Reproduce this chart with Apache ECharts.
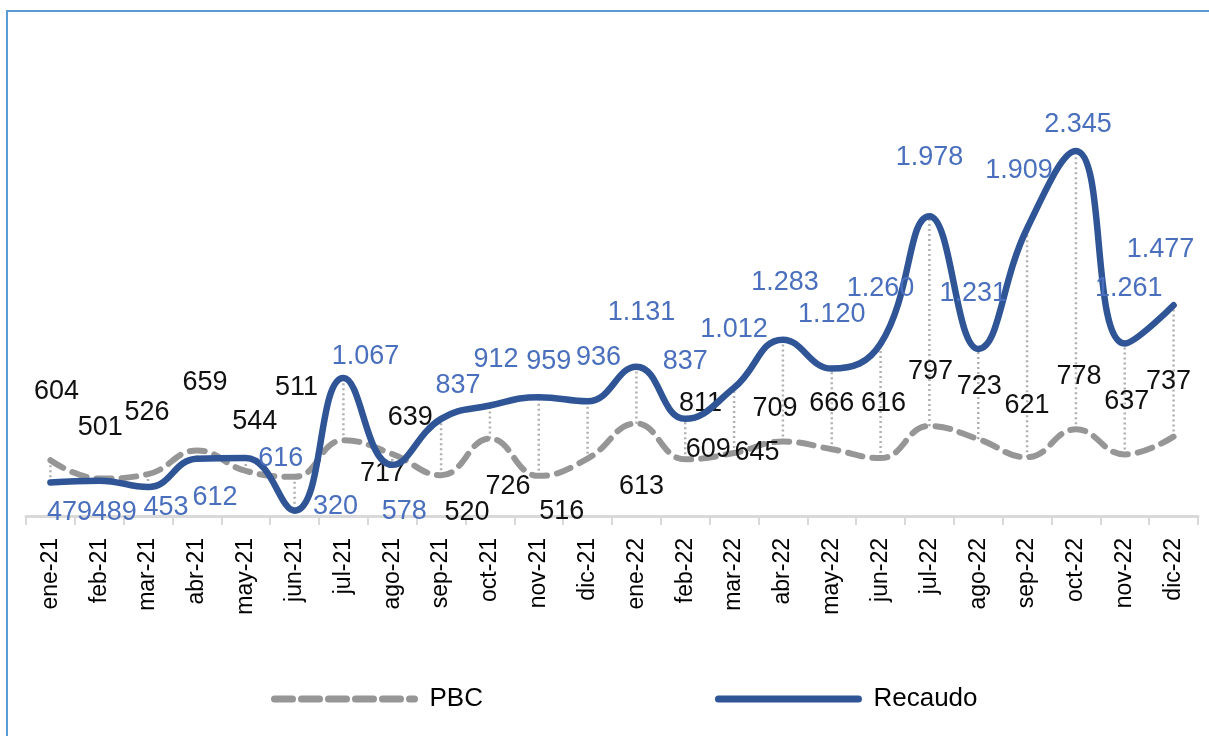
<!DOCTYPE html>
<html>
<head>
<meta charset="utf-8">
<script src="https://cdn.jsdelivr.net/npm/echarts@6/dist/echarts.min.js"></script>
<style>
html,body{margin:0;padding:0;background:#fff;}
#chart{width:1209px;height:736px;}
</style>
</head>
<body>
<div id="chart"></div>
<script>
var categories = ['ene-21','feb-21','mar-21','abr-21','may-21','jun-21','jul-21','ago-21','sep-21','oct-21','nov-21','dic-21',
                  'ene-22','feb-22','mar-22','abr-22','may-22','jun-22','jul-22','ago-22','sep-22','oct-22','nov-22','dic-22'];
var pbc = [604,501,526,659,544,511,717,639,520,726,516,613,811,609,645,709,666,616,797,723,621,778,637,737];
var recaudo = [479,489,453,612,616,320,1067,578,837,912,959,936,1131,837,1012,1283,1120,1260,1978,1231,1909,2345,1261,1477];

// label placement (style only): [dx, dy] offsets from each point
var pbcLabelOffset = [[6,-69],[1,-51],[-1,-62],[8,-68],[9,-49],[2,-89],[39,33],[18,-36],[26,37],[18,48],[23,36],[54,28],
                      [64,-20],[23,-10],[23,0],[-8,-33],[0,-46],[3,-55],[1,-54],[1,-53],[0,-52],[3,-53],[2,-53],[-5,-55]];
var recLabelOffset = [[19,30],[15,32],[18,20],[18,39],[35,0],[41,-4],[22,-21],[12,47],[17,-33],[6,-46],[10,-36],[11,-44],
                      [5,-54],[0,-57],[0,-58],[2,-57],[0,-54],[0,-55],[0,-59],[-5,-55],[-8,-58],[2,-26],[4,-55],[-13,-56]];

function fmt(v){ return String(v).replace(/\B(?=(\d{3})+(?!\d))/g, '.'); }

var FONT = 'Liberation Sans';
var chart = echarts.init(document.getElementById('chart'));

var pbcData = pbc.map(function(v,i){ return {value:v, label:{offset:pbcLabelOffset[i]}}; });
var recData = recaudo.map(function(v,i){ return {value:v, label:{offset:recLabelOffset[i]}}; });
var hiLo = categories.map(function(c,i){ return [i, pbc[i], recaudo[i]]; });

chart.setOption({
  animation:false,
  textStyle:{fontFamily:FONT},
  graphic:[{type:'rect', shape:{x:7,y:11,width:1260,height:800}, style:{fill:'none', stroke:'#5b9bd5', lineWidth:2}, silent:true, z:-10}],
  grid:{left:26, right:11, top:88, bottom:220},
  legend:{
    data:[
      {name:'PBC', itemStyle:{opacity:0}, lineStyle:{width:7, type:[18,9], cap:'round', color:'#969696'}},
      {name:'Recaudo', itemStyle:{opacity:0}, lineStyle:{width:7, cap:'round', color:'#2f5597'}}
    ],
    left:266, top:681, itemWidth:140, itemHeight:14, itemGap:232,
    textStyle:{fontSize:26, color:'#000', fontFamily:FONT, padding:[0,0,0,10]}
  },
  xAxis:{
    type:'category', data:categories, boundaryGap:true,
    axisLine:{lineStyle:{color:'#d9d9d9', width:3}},
    axisTick:{show:true, length:9, lineStyle:{color:'#d9d9d9', width:2}},
    axisLabel:{rotate:90, fontSize:23, color:'#000', margin:22, fontFamily:FONT, interval:0}
  },
  yAxis:{type:'value', min:290, max:2700, show:false, splitLine:{show:false}},
  series:[
    {
      type:'custom', name:'hl', silent:true, z:1,
      data:hiLo,
      encode:{x:0, y:[1,2]},
      renderItem:function(params, api){
        var p1 = api.coord([api.value(0), api.value(1)]);
        var p2 = api.coord([api.value(0), api.value(2)]);
        return {type:'line', shape:{x1:p1[0],y1:p1[1],x2:p2[0],y2:p2[1]},
                style:{stroke:'#b0b0b0', lineWidth:2.5, lineDash:[2,3]}};
      }
    },
    {
      name:'PBC', type:'line', data:pbcData, smooth:0.45, z:2,
      symbol:'circle', symbolSize:1, itemStyle:{color:'#969696'},
      lineStyle:{color:'#969696', width:6, type:[15,10], cap:'round'},
      label:{show:true, position:'inside', fontSize:27, color:'#111', fontFamily:FONT,
             formatter:function(p){return fmt(p.value);}}
    },
    {
      name:'Recaudo', type:'line', data:recData, smooth:0.45, z:3,
      symbol:'circle', symbolSize:1, itemStyle:{color:'#2f5597'},
      lineStyle:{color:'#2f5597', width:6.5, cap:'round'},
      label:{show:true, position:'inside', fontSize:27, color:'#4a6fbd', fontFamily:FONT,
             formatter:function(p){return fmt(p.value);}}
    }
  ]
});
</script>
</body>
</html>
